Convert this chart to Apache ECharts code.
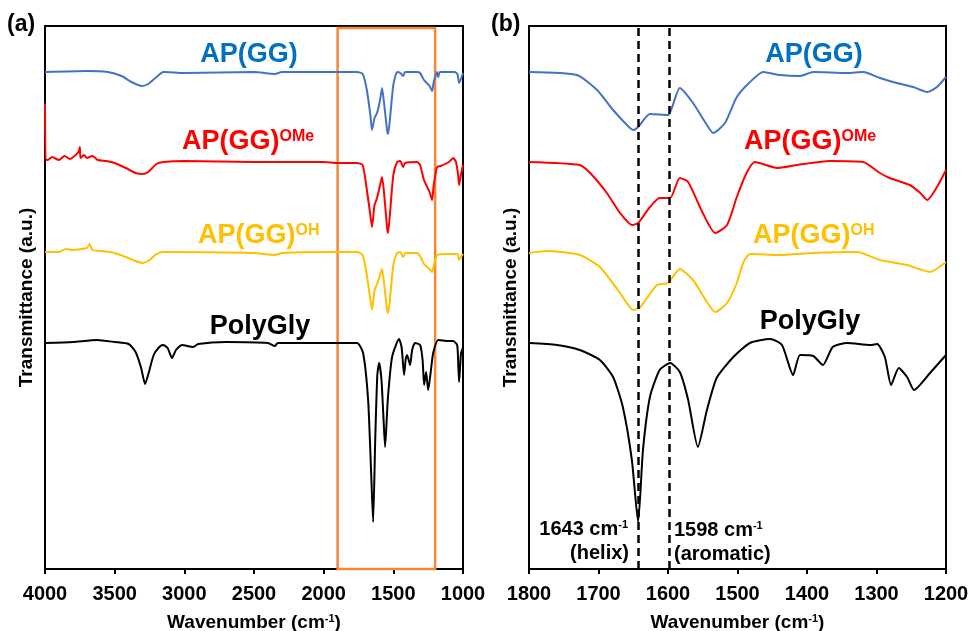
<!DOCTYPE html>
<html>
<head>
<meta charset="UTF-8">
<title>FTIR</title>
<style>
    html,body{margin:0;padding:0;background:#fff;}
    #chart{width:971px;height:631px;}
</style>
</head>
<body>
<div id="chart"></div>
<script src="https://cdn.jsdelivr.net/npm/echarts@6/dist/echarts.min.js"></script>
<script>
    // [wavenumber, transmittance (a.u., stacked offset)]
    const aBlue = [[4000,497],[3700,498],[3550,497],[3450,493],[3380,487],[3304,483],[3260,485],[3200,492],[3150,497],[3000,496],[2500,497],[2350,495],[2300,497],[1900,497],[1760,497],[1720,495],[1690,479],[1665,454],[1653,439],[1635,451],[1617,456],[1595,469],[1581,481],[1565,464],[1545,439],[1538,435],[1525,449],[1500,484],[1473,497],[1450,496],[1430,493],[1415,497],[1330,497],[1308,496],[1280,489],[1240,483],[1222,478],[1210,487],[1186,497],[1178,492],[1165,497],[1060,497],[1040,495],[1028,486],[1015,490],[1000,496]];
    const aRed = [[4000,465],[3995,409],[3980,409],[3950,412],[3900,409],[3860,413],[3820,410],[3780,414],[3760,417],[3750,422],[3745,411],[3720,414],[3700,411],[3660,413],[3620,409],[3560,408],[3500,406],[3420,401],[3350,396],[3300,395],[3260,397],[3200,405],[3150,407],[3000,408],[2500,407],[2000,407],[1900,406],[1760,406],[1720,404],[1690,379],[1665,354],[1653,342],[1635,364],[1617,371],[1595,384],[1581,392],[1565,374],[1545,341],[1538,336],[1525,354],[1500,394],[1473,407],[1450,408],[1430,402],[1415,406],[1330,407],[1308,404],[1280,389],[1240,377],[1222,369],[1210,384],[1186,402],[1160,403],[1100,407],[1070,411],[1050,407],[1035,394],[1028,384],[1015,394],[1000,404]];
    const aYellow = [[4000,317],[3900,317],[3850,320],[3800,319],[3700,321],[3680,325],[3660,319],[3600,318],[3500,316],[3420,312],[3350,308],[3300,306],[3250,309],[3200,315],[3150,317],[2500,316],[2350,314],[2300,316],[1900,317],[1760,317],[1720,314],[1690,294],[1665,269],[1653,259],[1635,279],[1617,285],[1595,294],[1581,300],[1565,284],[1545,259],[1538,256],[1525,269],[1500,304],[1473,316],[1450,317],[1430,312],[1415,316],[1330,316],[1308,313],[1280,305],[1240,300],[1222,297],[1210,303],[1186,314],[1100,315],[1040,315],[1028,309],[1015,312],[1000,315]];
    const aBlack = [[4000,226],[3800,227],[3627,229],[3500,227],[3400,225],[3350,217],[3310,201],[3282,185],[3260,194],[3220,214],[3180,222],[3153,224],[3120,221],[3088,211],[3060,219],[3017,224],[2937,222],[2900,225],[2700,227],[2400,226],[2350,223],[2330,226],[2000,226],[1760,226],[1717,216],[1681,169],[1660,99],[1645,47],[1630,129],[1615,194],[1602,206],[1585,189],[1570,149],[1559,122],[1540,169],[1509,212],[1459,230],[1440,221],[1423,194],[1410,211],[1401,214],[1380,204],[1365,219],[1344,226],[1308,224],[1290,209],[1279,184],[1265,197],[1250,179],[1230,199],[1214,216],[1178,229],[1100,228],[1071,228],[1042,224],[1034,204],[1028,187],[1020,204],[1014,216],[1000,221]];

    const bBlue = [[1800,497],[1731,494],[1702,479],[1679,459],[1659,444],[1650,439],[1643,442],[1626,455],[1600,454],[1594,462],[1583,481],[1564,466],[1544,444],[1535,436],[1518,446],[1501,472],[1482,487],[1463,497],[1439,494],[1410,493],[1391,497],[1342,496],[1319,497],[1295,491],[1271,486],[1247,482],[1227,477],[1213,482],[1200,492]];
    const bRed = [[1800,407],[1727,404],[1712,396],[1688,376],[1669,356],[1652,344],[1643,346],[1626,362],[1612,371],[1597,371],[1583,391],[1571,387],[1550,356],[1532,336],[1515,344],[1501,372],[1487,396],[1475,407],[1443,401],[1414,404],[1367,408],[1319,407],[1295,396],[1281,391],[1252,384],[1237,376],[1227,369],[1213,382],[1200,399]];
    const bYellow = [[1800,316],[1774,318],[1727,314],[1698,302],[1669,276],[1650,259],[1640,262],[1616,284],[1600,286],[1583,300],[1564,289],[1544,267],[1532,257],[1515,266],[1501,286],[1492,306],[1482,315],[1439,314],[1391,316],[1328,317],[1295,309],[1256,304],[1223,297],[1200,307]];
    const bBlack = [[1800,226],[1760,224],[1727,219],[1698,209],[1679,192],[1665,162],[1652,109],[1643,47],[1636,119],[1626,172],[1612,199],[1597,206],[1583,197],[1571,169],[1557,122],[1544,159],[1530,191],[1506,212],[1482,226],[1453,230],[1436,224],[1420,194],[1410,214],[1391,213],[1377,204],[1363,222],[1342,226],[1309,224],[1299,225],[1288,212],[1279,184],[1268,201],[1256,192],[1246,179],[1223,196],[1200,214]];

    const boxRange = [1900, 1200];
    const peakLines = [1643, 1598];
    const names = ['AP(GG)', 'AP(GG)', 'AP(GG)', 'PolyGly'];
    const colors = ['#4472C4', '#FF0000', '#FFC000', '#000000'];

    const FONT = '"Liberation Sans", Arial, sans-serif';
    const myChart = echarts.init(document.getElementById('chart'));

    function xAx(idx, min, max, interval) {
        return {
            gridIndex: idx, type: 'value', inverse: true, min: min, max: max, interval: interval,
            name: 'Wavenumber (cm{sup|-1})', nameLocation: 'middle', nameGap: 44,
            nameTextStyle: {fontFamily: FONT, fontWeight: 'bold', fontSize: 19, color: '#000',
                rich: {sup: {fontFamily: FONT, fontWeight: 'bold', fontSize: 11, verticalAlign: 'top', color: '#000'}}},
            axisLine: {lineStyle: {color: '#000', width: 2}},
            axisTick: {length: 5, lineStyle: {color: '#000', width: 2}},
            axisLabel: {fontFamily: FONT, fontWeight: 'bold', fontSize: 20, color: '#000', margin: 15,
                formatter: v => String(v)},
            splitLine: {show: false}
        };
    }
    function yAx(idx) {
        return {
            gridIndex: idx, type: 'value', min: 0, max: 543,
            name: 'Transmittance (a.u.)', nameLocation: 'middle', nameGap: 9,
            nameTextStyle: {fontFamily: FONT, fontWeight: 'bold', fontSize: 19, color: '#000'},
            axisLine: {show: true, lineStyle: {color: '#000', width: 2}},
            axisTick: {show: false}, axisLabel: {show: false}, splitLine: {show: false}
        };
    }
    function line(idx, data, color) {
        return {
            type: 'line', xAxisIndex: idx, yAxisIndex: idx, data: data, showSymbol: false,
            smooth: 0.2, lineStyle: {color: color, width: 2}, itemStyle: {color: color}, silent: true
        };
    }

    const series = [
        line(0, aBlue, colors[0]), line(0, aRed, colors[1]), line(0, aYellow, colors[2]), line(0, aBlack, colors[3]),
        line(1, bBlue, colors[0]), line(1, bRed, colors[1]), line(1, bYellow, colors[2]), line(1, bBlack, colors[3])
    ];
    series[0].markArea = {
        silent: true,
        itemStyle: {color: 'rgba(0,0,0,0)', borderColor: '#F4873A', borderWidth: 2.5},
        data: [[{xAxis: boxRange[0], yAxis: 0}, {xAxis: boxRange[1], yAxis: 541}]]
    };
    series[7].markLine = {
        silent: true, symbol: ['none', 'none'], label: {show: false},
        lineStyle: {type: [8, 5], color: '#000', width: 2.5},
        data: peakLines.map(v => ({xAxis: v}))
    };

    const big = {fontFamily: FONT, fontWeight: 'bold', fontSize: 27};
    const sup = {fontFamily: FONT, fontWeight: 'bold', fontSize: 16, verticalAlign: 'top'};
    function label(x, y, str, color, align) {
        return {
            type: 'text', x: x, y: y, silent: true,
            style: {
                text: str, textAlign: align || 'left', textVerticalAlign: 'middle', fill: color,
                rich: {m: Object.assign({fill: color}, big), s: Object.assign({fill: color}, sup)}
            }
        };
    }
    const small = {fontFamily: FONT, fontWeight: 'bold', fontSize: 20};
    const smallSup = {fontFamily: FONT, fontWeight: 'bold', fontSize: 11, verticalAlign: 'top'};
    function note(x, y, str, align) {
        return {
            type: 'text', x: x, y: y, silent: true,
            style: {
                text: str, textAlign: align, textVerticalAlign: 'middle', fill: '#000',
                rich: {m: Object.assign({fill: '#000'}, small), s: Object.assign({fill: '#000'}, smallSup)}
            }
        };
    }

    const gridBase = {top: 26, height: 543, show: true, borderColor: '#000', borderWidth: 2,
        backgroundColor: 'transparent', containLabel: false, outerBoundsMode: 'none'};

    const option = {
        animation: false,
        backgroundColor: '#fff',
        grid: [
            Object.assign({left: 45, width: 418}, gridBase),
            Object.assign({left: 529, width: 417}, gridBase)
        ],
        xAxis: [xAx(0, 1000, 4000, 500), xAx(1, 1200, 1800, 100)],
        yAxis: [yAx(0), yAx(1)],
        series: series,
        graphic: [
            {type: 'text', x: 7, y: 25, style: {text: '(a)', font: 'bold 23px ' + FONT, fill: '#000', textVerticalAlign: 'middle'}},
            {type: 'text', x: 491, y: 25, style: {text: '(b)', font: 'bold 23px ' + FONT, fill: '#000', textVerticalAlign: 'middle'}},

            label(249, 55, '{m|' + names[0] + '}', '#0070C0', 'center'),
            label(182, 142, '{m|' + names[1] + '}{s|OMe}', colors[1]),
            label(198, 236, '{m|' + names[2] + '}{s|OH}', colors[2]),
            label(260, 327, '{m|' + names[3] + '}', colors[3], 'center'),

            label(814, 55, '{m|' + names[0] + '}', '#0070C0', 'center'),
            label(744, 142, '{m|' + names[1] + '}{s|OMe}', colors[1]),
            label(753, 236, '{m|' + names[2] + '}{s|OH}', colors[2]),
            label(810, 322, '{m|' + names[3] + '}', colors[3], 'center'),

            note(628, 529, '{m|1643 cm}{s|-1}', 'right'),
            note(629, 553, '{m|(helix)}', 'right'),
            note(674, 530, '{m|1598 cm}{s|-1}', 'left'),
            note(674, 554, '{m|(aromatic)}', 'left')
        ]
    };
    myChart.setOption(option);
</script>
</body>
</html>
